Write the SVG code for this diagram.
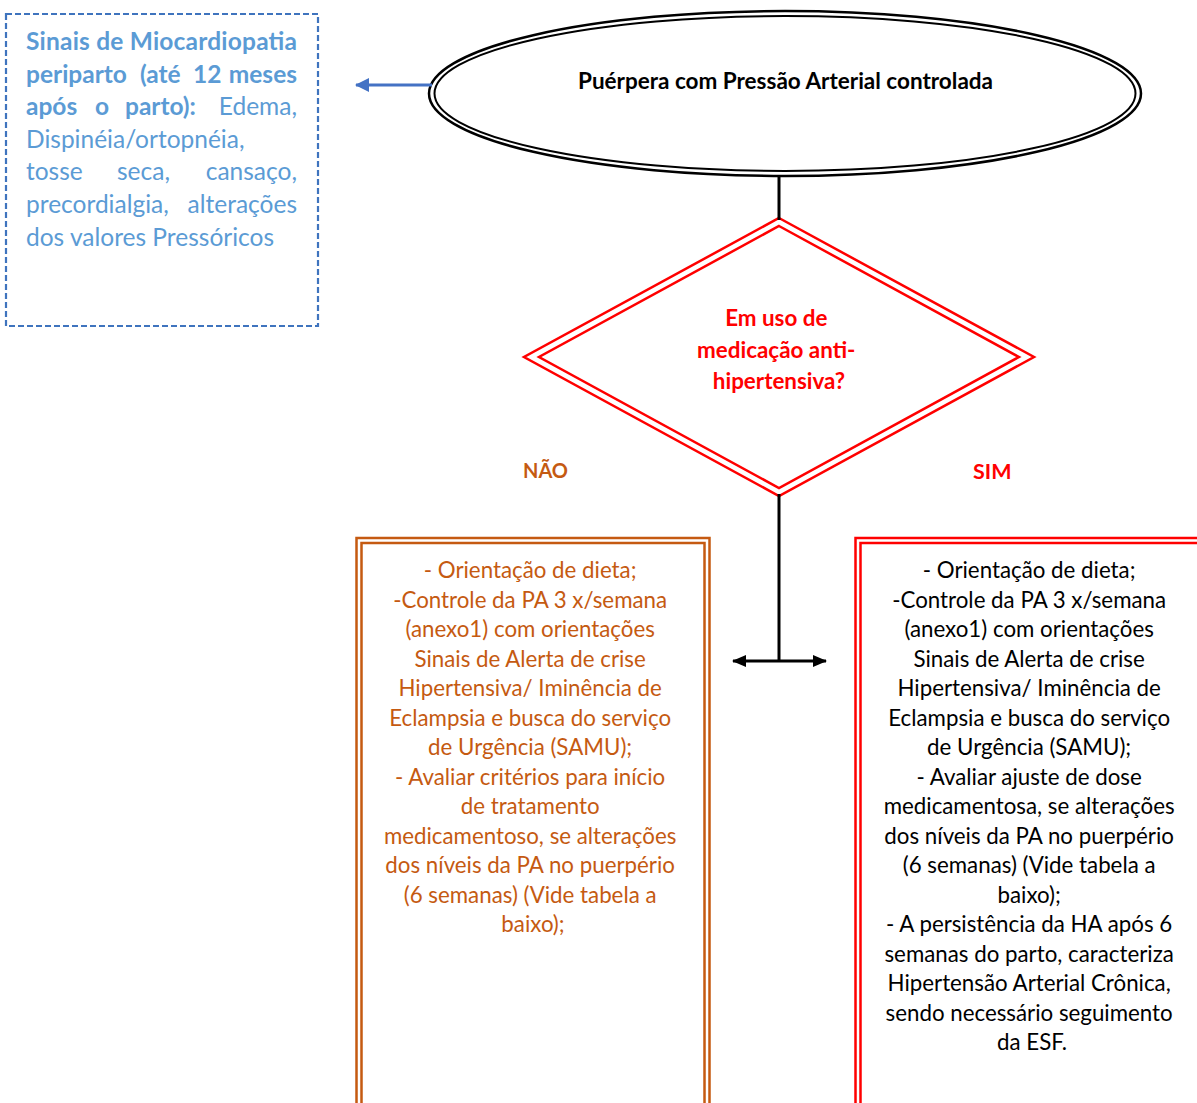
<svg xmlns="http://www.w3.org/2000/svg" width="1197" height="1103" viewBox="0 0 1197 1103">
  <defs>
    <style>
      text { font-family: Lato, "Open Sans", "Liberation Sans", sans-serif; }
      .side { font-size: 24.5px; fill: #5b9bd5; }
      .side .b { font-weight: bold; }
      .title { font-size: 22.5px; font-weight: bold; fill: #000; }
      .ask { font-size: 22.4px; font-weight: bold; fill: #ff0000; }
      .no { font-size: 20px; font-weight: bold; fill: #c55a11; }
      .yes { font-size: 21.5px; font-weight: bold; fill: #ff0000; }
      .body { font-size: 22.3px; text-anchor: middle; }
      .orange { fill: #c55a11; }
      .black { fill: #000; }
      .line { fill: none; stroke: #000; stroke-width: 3; }
    </style>
    <marker id="blueHead" viewBox="0 0 14 14" refX="13" refY="7" markerWidth="14" markerHeight="14" markerUnits="userSpaceOnUse" orient="auto">
      <path d="M0,0 L14,7 L0,14 Z" fill="#4472c4"/>
    </marker>
    <marker id="blackHead" viewBox="0 0 14 12" refX="13" refY="6" markerWidth="14" markerHeight="12" markerUnits="userSpaceOnUse" orient="auto-start-reverse">
      <path d="M0,0 L14,6 L0,12 Z" fill="#000"/>
    </marker>
  </defs>

  <rect width="1197" height="1103" fill="#fff"/>

  <!-- Note: peripartum cardiomyopathy signs -->
  <g id="note-miocardiopatia">
    <rect x="6" y="14" width="312" height="312" fill="#fff" stroke="#3f74be" stroke-width="2.2" stroke-dasharray="6,3"/>
    <g class="side">
      <text class="b" x="26" y="50" textLength="271" lengthAdjust="spacing">Sinais de Miocardiopatia</text>
      <text class="b" y="83"><tspan x="26">periparto</tspan><tspan x="140">(até</tspan><tspan x="193">12</tspan><tspan x="297" text-anchor="end">meses</tspan></text>
      <text y="115"><tspan class="b" x="26">após</tspan><tspan class="b" x="95">o</tspan><tspan class="b" x="125">parto):</tspan></text>
      <text y="115" x="297" text-anchor="end">Edema,</text>
      <text x="26" y="148">Dispinéia/ortopnéia,</text>
      <text y="180"><tspan x="26">tosse</tspan><tspan x="117">seca,</tspan></text>
      <text x="297" y="180" text-anchor="end">cansaço,</text>
      <text x="26" y="213">precordialgia,</text>
      <text x="297" y="213" text-anchor="end">alterações</text>
      <text x="26" y="246">dos valores Pressóricos</text>
    </g>
  </g>

  <!-- Start: controlled blood pressure -->
  <g id="start-puerpera">
    <ellipse cx="785" cy="93.5" rx="356" ry="82.5" fill="#fff" stroke="#000" stroke-width="2.5"/>
    <ellipse cx="785" cy="93.5" rx="350.5" ry="77.5" fill="none" stroke="#000" stroke-width="2"/>
    <text class="title" x="785.5" y="89" text-anchor="middle">Puérpera com Pressão Arterial controlada</text>
  </g>

  <!-- Decision: antihypertensive medication -->
  <g id="decision-medicacao">
    <polygon points="779,218 1034,357 779,496 524,357" fill="#fff" stroke="#ff0000" stroke-width="2.5"/>
    <polygon points="779,226 1019,357 779,488 539,357" fill="none" stroke="#ff0000" stroke-width="2.5"/>
    <text class="ask" text-anchor="middle">
      <tspan x="779" y="326">Em uso de</tspan>
      <tspan x="779" y="358">medicação anti-</tspan>
      <tspan x="779" y="389">hipertensiva?</tspan>
    </text>
  </g>

  <g id="label-nao"><text class="no" x="523" y="478">NÃO</text></g>
  <g id="label-sim"><text class="yes" x="973" y="479">SIM</text></g>

  <!-- Branch: no medication -->
  <g id="box-nao">
    <rect x="356.5" y="538" width="353" height="580" fill="#fff" stroke="#c55a11" stroke-width="2.5"/>
    <rect x="361.5" y="543" width="343" height="570" fill="none" stroke="#c55a11" stroke-width="2.5"/>
    <text class="body orange">
      <tspan x="533" y="578">- Orientação de dieta;</tspan>
      <tspan x="533" y="607.5">-Controle da PA 3 x/semana</tspan>
      <tspan x="533" y="637">(anexo1) com orientações</tspan>
      <tspan x="533" y="666.5">Sinais de Alerta de crise</tspan>
      <tspan x="533" y="696">Hipertensiva/ Iminência de</tspan>
      <tspan x="533" y="725.5">Eclampsia e busca do serviço</tspan>
      <tspan x="533" y="755">de Urgência (SAMU);</tspan>
      <tspan x="533" y="784.5">- Avaliar critérios para início</tspan>
      <tspan x="533" y="814">de tratamento</tspan>
      <tspan x="533" y="843.5">medicamentoso, se alterações</tspan>
      <tspan x="533" y="873">dos níveis da PA no puerpério</tspan>
      <tspan x="533" y="902.5">(6 semanas) (Vide tabela a</tspan>
      <tspan x="533" y="932">baixo);</tspan>
    </text>
  </g>

  <!-- Branch: on medication -->
  <g id="box-sim">
    <rect x="855.5" y="538" width="360" height="580" fill="#fff" stroke="#ff0000" stroke-width="2.5"/>
    <rect x="860.5" y="543" width="350" height="570" fill="none" stroke="#ff0000" stroke-width="2.5"/>
    <text class="body black">
      <tspan x="1032" y="578">- Orientação de dieta;</tspan>
      <tspan x="1032" y="607.5">-Controle da PA 3 x/semana</tspan>
      <tspan x="1032" y="637">(anexo1) com orientações</tspan>
      <tspan x="1032" y="666.5">Sinais de Alerta de crise</tspan>
      <tspan x="1032" y="696">Hipertensiva/ Iminência de</tspan>
      <tspan x="1032" y="725.5">Eclampsia e busca do serviço</tspan>
      <tspan x="1032" y="755">de Urgência (SAMU);</tspan>
      <tspan x="1032" y="784.5">- Avaliar ajuste de dose</tspan>
      <tspan x="1032" y="814">medicamentosa, se alterações</tspan>
      <tspan x="1032" y="843.5">dos níveis da PA no puerpério</tspan>
      <tspan x="1032" y="873">(6 semanas) (Vide tabela a</tspan>
      <tspan x="1032" y="902.5">baixo);</tspan>
      <tspan x="1032" y="932">- A persistência da HA após 6</tspan>
      <tspan x="1032" y="961.5">semanas do parto, caracteriza</tspan>
      <tspan x="1032" y="991">Hipertensão Arterial Crônica,</tspan>
      <tspan x="1032" y="1020.5">sendo necessário seguimento</tspan>
      <tspan x="1032" y="1050">da ESF.</tspan>
    </text>
  </g>

  <!-- Connectors -->
  <g id="connectors">
    <line x1="432" y1="85" x2="356" y2="85" stroke="#4472c4" stroke-width="3" marker-end="url(#blueHead)"/>
    <line class="line" x1="779" y1="177" x2="779" y2="220"/>
    <line class="line" x1="779" y1="494" x2="779" y2="661"/>
    <line class="line" x1="733" y1="661" x2="826" y2="661" marker-start="url(#blackHead)" marker-end="url(#blackHead)"/>
  </g>
</svg>
